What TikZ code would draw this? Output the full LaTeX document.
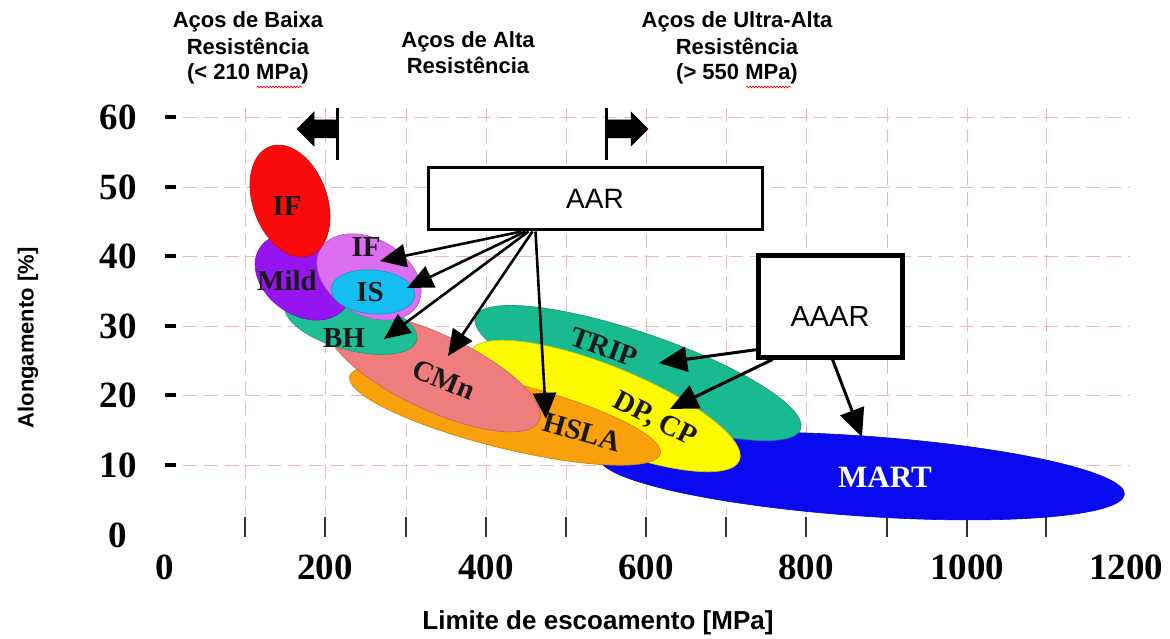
\documentclass[tikz,border=0pt]{standalone}
\usepackage{fontspec}
\setmainfont{Liberation Serif}
\newfontfamily\sansf{Liberation Sans}
\usetikzlibrary{arrows.meta,calc,decorations.pathmorphing}
\definecolor{cIF}{RGB}{250,10,10}
\definecolor{cMild}{RGB}{150,20,240}
\definecolor{cIFs}{RGB}{220,110,240}
\definecolor{cIS}{RGB}{20,190,240}
\definecolor{cBH}{RGB}{30,190,150}
\definecolor{cCMn}{RGB}{240,125,125}
\definecolor{cHSLA}{RGB}{250,160,10}
\definecolor{cDP}{RGB}{255,250,0}
\definecolor{cTRIP}{RGB}{25,185,145}
\definecolor{cMART}{RGB}{10,10,240}
\definecolor{cgrid}{RGB}{235,185,185}
\begin{document}
\begin{tikzpicture}[x=1pt,y=1pt,
  blob/.style={fill=#1, draw=#1!80!black, line width=0.6pt},
  lbl/.style={font=\bfseries\fontsize{29}{30}\selectfont, inner sep=0pt, text=black!90},
  num/.style={font=\bfseries\fontsize{37}{38}\selectfont, inner sep=0pt},
  toptxt/.style={font=\sansf\bfseries\fontsize{22}{24}\selectfont, anchor=base, inner sep=0pt},
  axtitle/.style={font=\sansf\bfseries\fontsize{#1}{#1}\selectfont, inner sep=0pt},
  gridln/.style={draw=cgrid, line width=0.7pt, dash pattern=on 14pt off 7pt},
  arr/.style={line width=2.6pt, -{Triangle[length=26pt,width=23pt]}},
  arrb/.style={line width=3pt, -{Triangle[length=28pt,width=25pt]}},
  boxa/.style={draw, line width=3pt, fill=white, inner sep=0pt, font=\sansf\fontsize{28}{30}\selectfont},
  boxb/.style={draw, line width=5pt, fill=white, inner sep=0pt, font=\sansf\fontsize{29}{30}\selectfont},
  wavy/.style={draw=red, line width=0.6pt, decorate, decoration={snake, amplitude=1pt, segment length=3pt}},
  tickv/.style={draw=black!80, line width=2.5pt},
  tickh/.style={draw=black, line width=4pt},
  blockarr/.style={fill=black, draw=black, line width=0.5pt}
]
\useasboundingbox (0,0) rectangle (1170,-639);
\fill[white] (0,0) rectangle (1170,-639);

% grid
\foreach \yy in {117,187,256,326,395,465}
  \draw[gridln] (183,-\yy) -- (1130,-\yy);
\foreach \xx in {245,325,406,486,566,646,726,806,887,967,1046}
  \draw[gridln] (\xx,-108) -- (\xx,-515);

% axis ticks
\foreach \xx in {245,325,406,486,566,646,726,806,887,967,1046}
  \draw[tickv] (\xx,-517) -- (\xx,-537);
\foreach \yy in {117,187,256,326,395,465}
  \draw[tickh] (165,-\yy) -- (176,-\yy);

% axis numbers
\foreach \v/\yy in {60/117,50/187,40/256,30/326,20/395,10/465,0/535}
  \node[num] (y\v) at (118,-\yy) {\v};
\foreach \v/\xx in {0/165,200/325,400/486,600/646,800/806,1000/967,1200/1126}
  \node[num] (x\v) at (\xx,-567) {\v};

% ellipses (back to front)
\draw[blob=cMART, rotate around={-4:(862,-476)}] (862,-476) ellipse [x radius=263, y radius=40];
\draw[blob=cTRIP, rotate around={-19:(638,-373)}] (638,-373) ellipse [x radius=172, y radius=40];
\draw[blob=cDP, rotate around={-22:(605,-406)}] (605,-406) ellipse [x radius=145, y radius=40];
\draw[blob=cHSLA, rotate around={-14:(505,-415)}] (505,-415) ellipse [x radius=160, y radius=33];
\draw[blob=cCMn, rotate around={-25:(434,-372)}] (434,-372) ellipse [x radius=116, y radius=38];
\draw[blob=cBH, rotate around={-15:(351,-323)}] (351,-323) ellipse [x radius=68, y radius=27];
\draw[blob=cMild, rotate around={-35:(303,-277)}] (303,-277) ellipse [x radius=52, y radius=38];
\draw[blob=cIFs, rotate around={-30:(369,-277)}] (369,-277) ellipse [x radius=56, y radius=38];
\draw[blob=cIS, rotate around={-5:(373,-292)}] (373,-292) ellipse [x radius=42, y radius=22];
\draw[blob=cIF, rotate around={110:(290,-201)}] (290,-201) ellipse [x radius=58, y radius=37];

% ellipse labels
\node[lbl] (lIF) at (287,-206) {IF};
\node[lbl] (lIFs) at (366,-247) {IF};
\node[lbl] (lMild) at (287,-281) {Mild};
\node[lbl] (lIS) at (370,-292) {IS};
\node[lbl] (lBH) at (344,-338) {BH};
\node[lbl, rotate=-22] (lCMn) at (444,-380) {CMn};
\node[lbl, rotate=-20] (lTRIP) at (604,-347) {TRIP};
\node[lbl, rotate=-16] (lHSLA) at (582,-432) {HSLA};
\node[lbl, rotate=-27] (lDP) at (655,-420) {DP, CP};
\node[lbl, text=white, font=\bfseries\fontsize{31}{32}\selectfont] (lMART) at (885,-477) {MART};

% boxes
\node[boxa, minimum width=334pt, minimum height=62pt] (aar) at (595,-199) {AAR};
\node[boxb, minimum width=144pt, minimum height=102pt, text depth=0pt] (aaar) at (830,-306) {\raisebox{-20pt}{AAAR}};

% arrow tips
\coordinate (tIFs) at (380,-261);
\coordinate (tIS) at (407,-288);
\coordinate (tBH) at (384,-339);
\coordinate (tCMn) at (448,-356);
\coordinate (tHSLA) at (546,-419);
\coordinate (tTRIP) at (659,-363);
\coordinate (tDP) at (670,-409);
\coordinate (tMART) at (862,-437);

\draw[arr] ($(aar.south west)+(95,0)$) -- (tIFs);
\draw[arr] ($(aar.south west)+(99,0)$) -- (tIS);
\draw[arr] ($(aar.south west)+(102,0)$) -- (tBH);
\draw[arr] ($(aar.south west)+(106,0)$) -- (tCMn);
\draw[arr] ($(aar.south west)+(109,0)$) -- (tHSLA);
\draw[arrb] ($(aaar.south west)+(2,10)$) -- (tTRIP);
\draw[arrb] ($(aaar.south west)+(17,0)$) -- (tDP);
\draw[arrb] ($(aaar.south west)+(77,0)$) -- (tMART);

% block arrows at top
\draw[line width=3pt] (337,-108) -- (337,-160);
\fill[blockarr] (297,-129) -- (314,-112) -- (314,-120) -- (337,-120) -- (337,-138) -- (314,-138) -- (314,-146) -- cycle;
\draw[line width=3pt] (606,-108) -- (606,-160);
\fill[blockarr] (648,-129) -- (631,-112) -- (631,-120) -- (606,-120) -- (606,-138) -- (631,-138) -- (631,-146) -- cycle;

% top texts
\node[toptxt] (b1) at (248,-28) {Aços de Baixa};
\node[toptxt] (b2) at (248,-55) {Resistência};
\node[toptxt] (b3) at (248,-80) {(< 210 MPa)};
\node[toptxt] (a1) at (468,-48) {Aços de Alta};
\node[toptxt] (a2) at (468,-74) {Resistência};
\node[toptxt] (u1) at (737,-28) {Aços de Ultra-Alta};
\node[toptxt] (u2) at (737,-55) {Resistência};
\node[toptxt] (u3) at (737,-80) {(> 550 MPa)};
\draw[wavy] (257,-87) -- (302,-87);
\draw[wavy] (746,-87) -- (791,-87);

% axis titles
\node[axtitle=22, rotate=90] (ytit) at (28,-338) {Alongamento [\%]};
\node[axtitle=26] (xtit) at (598,-623) {Limite de escoamento [MPa]};
\end{tikzpicture}
\end{document}
